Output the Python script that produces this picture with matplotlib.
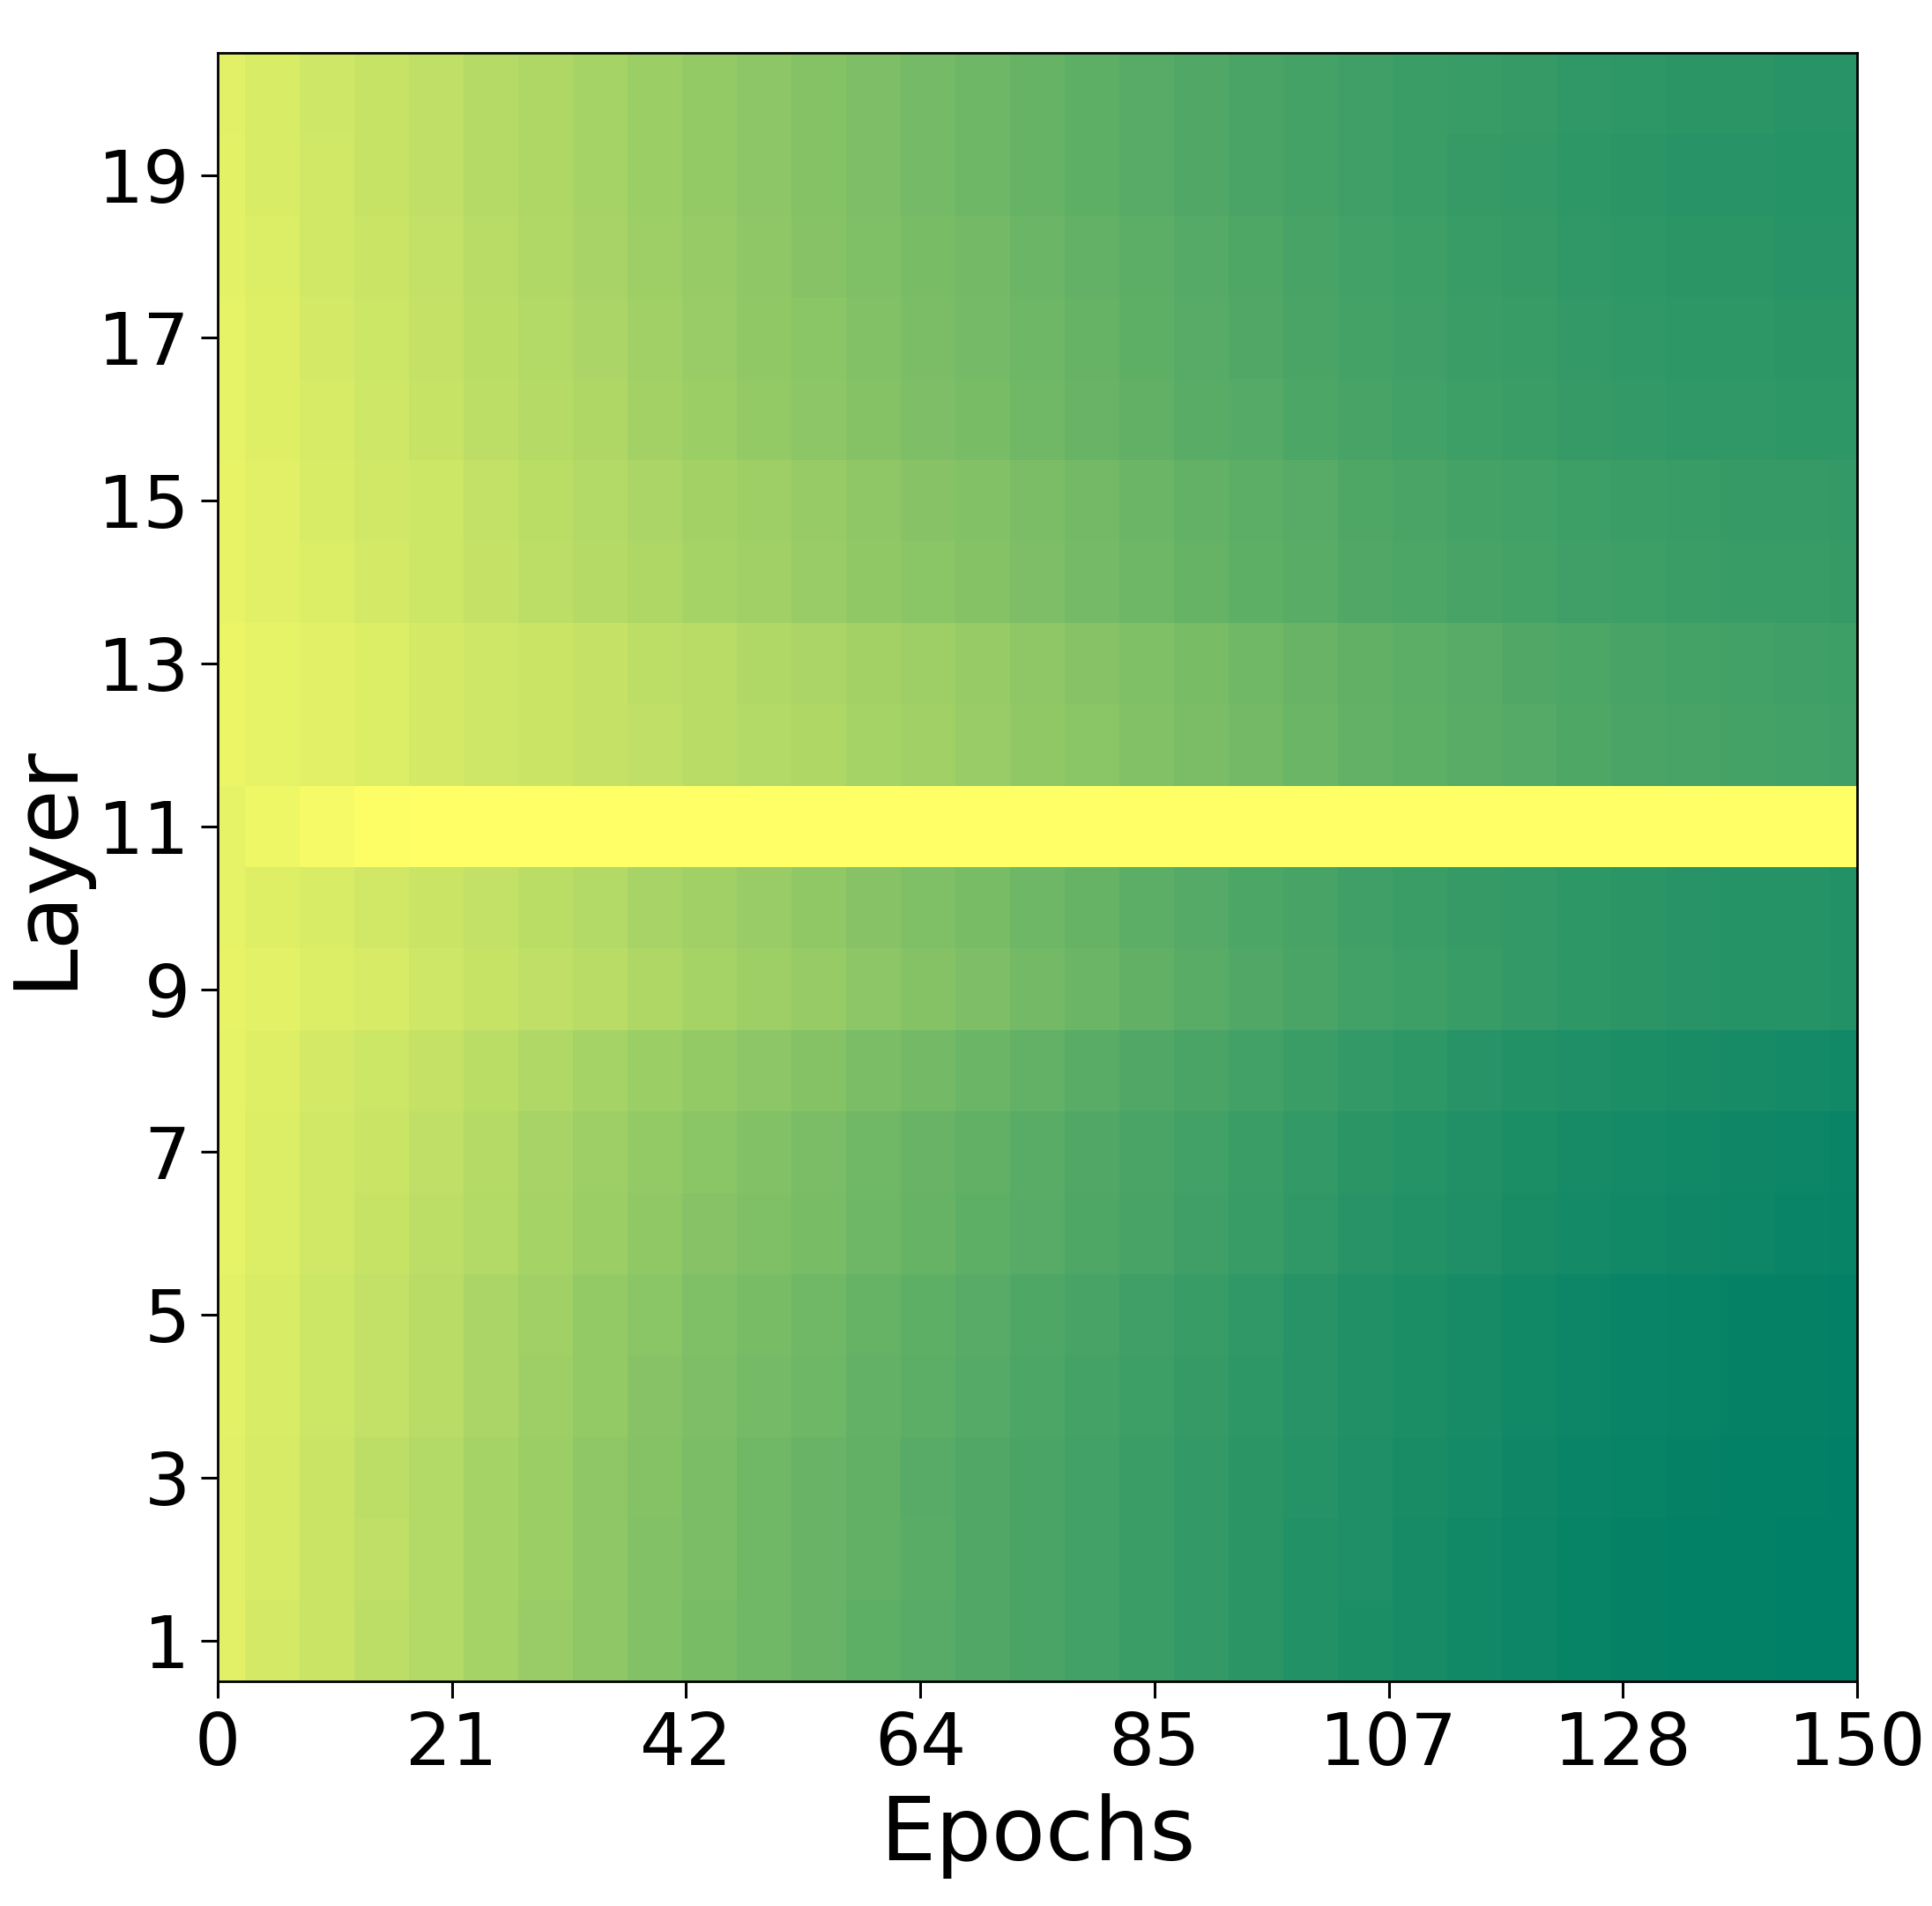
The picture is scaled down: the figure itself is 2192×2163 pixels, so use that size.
import numpy as np
import matplotlib
matplotlib.use("Agg")
import matplotlib.pyplot as plt

# Epoch sample points (columns) and layers (rows)
epochs = np.arange(0, 151, 5)
layers = np.arange(1, 21)

L1 = [.12,.17,.21,.26,.30,.35,.40,.44,.49,.53,.56,.59,.63,.66,.68,.71,.74,.77,.80,.83,.86,.89,.91,.93,.95,.97,.98,.99,.99,1.0,1.0]
L2 = [.12,.16,.21,.25,.30,.35,.39,.44,.49,.52,.56,.59,.62,.65,.68,.71,.74,.77,.80,.83,.86,.88,.91,.93,.95,.97,.98,.99,.99,1.0,1.0]
L3 = [.12,.16,.21,.26,.30,.35,.39,.44,.48,.52,.56,.59,.62,.66,.68,.71,.74,.77,.80,.83,.85,.88,.90,.92,.94,.96,.97,.98,.99,.99,1.0]
L4 = [.11,.15,.20,.24,.28,.33,.38,.42,.47,.51,.54,.57,.61,.64,.67,.70,.73,.76,.79,.82,.84,.87,.89,.91,.93,.95,.96,.97,.98,.98,.99]
L5 = [.11,.15,.20,.24,.28,.33,.37,.42,.46,.50,.53,.56,.60,.63,.66,.69,.72,.75,.78,.81,.84,.87,.89,.91,.93,.95,.96,.97,.98,.98,.99]
L6 = [.10,.14,.18,.22,.26,.30,.35,.39,.43,.47,.50,.53,.57,.60,.63,.66,.69,.72,.75,.78,.81,.84,.86,.88,.90,.92,.93,.94,.95,.96,.97]
L7 = [.10,.14,.18,.21,.25,.29,.34,.38,.42,.46,.49,.52,.56,.59,.62,.65,.68,.71,.74,.77,.80,.83,.85,.87,.89,.91,.92,.93,.94,.95,.96]
L8 = [.10,.13,.17,.20,.23,.27,.31,.35,.39,.42,.45,.48,.52,.55,.58,.61,.65,.68,.71,.74,.77,.80,.82,.84,.86,.88,.89,.90,.91,.92,.93]
L9 = [.09,.11,.14,.16,.19,.22,.25,.28,.32,.35,.38,.41,.45,.48,.51,.55,.58,.62,.65,.68,.71,.74,.76,.78,.80,.82,.83,.84,.85,.85,.86]
L10 = [.10,.13,.15,.18,.21,.24,.27,.30,.34,.37,.40,.43,.47,.50,.53,.57,.60,.64,.67,.70,.72,.75,.77,.79,.80,.82,.83,.84,.85,.85,.86]
L11 = [.10,.07,.04,.01] + [0.0] * 27
L12 = [.08,.10,.12,.14,.17,.19,.21,.23,.25,.28,.30,.32,.35,.37,.40,.43,.46,.49,.52,.55,.58,.61,.63,.65,.67,.69,.71,.72,.73,.74,.75]
L13 = [.08,.10,.12,.14,.17,.19,.21,.23,.26,.28,.31,.33,.36,.38,.41,.44,.47,.50,.53,.56,.59,.62,.64,.66,.68,.70,.72,.73,.74,.75,.76]
L14 = [.09,.12,.14,.17,.20,.23,.26,.29,.32,.35,.37,.40,.43,.46,.48,.51,.54,.57,.60,.63,.65,.68,.70,.72,.73,.75,.76,.77,.78,.78,.79]
L15 = [.09,.12,.15,.18,.20,.24,.27,.30,.33,.36,.38,.41,.44,.47,.49,.52,.55,.58,.61,.64,.66,.69,.71,.73,.74,.76,.77,.78,.79,.79,.80]
L16 = [.10,.13,.16,.19,.22,.26,.29,.32,.36,.39,.42,.45,.48,.51,.53,.56,.59,.62,.65,.67,.70,.72,.74,.76,.77,.79,.80,.81,.81,.82,.82]
L17 = [.10,.13,.17,.20,.23,.27,.30,.33,.37,.40,.43,.46,.49,.52,.54,.57,.60,.63,.66,.68,.71,.73,.75,.77,.78,.80,.81,.82,.82,.83,.83]
L18 = [.11,.14,.18,.21,.24,.28,.31,.34,.38,.41,.44,.47,.50,.53,.55,.58,.61,.64,.67,.69,.72,.74,.76,.78,.79,.81,.82,.83,.83,.84,.84]
L19 = [.11,.15,.18,.22,.25,.29,.32,.35,.39,.42,.45,.48,.51,.54,.57,.60,.63,.66,.68,.71,.73,.75,.77,.79,.80,.82,.83,.84,.84,.85,.85]
L20 = [.12,.15,.19,.22,.25,.29,.32,.35,.39,.42,.45,.48,.51,.54,.57,.60,.63,.66,.68,.71,.73,.75,.77,.78,.79,.81,.82,.83,.83,.84,.84]

rows = [L1, L2, L3, L4, L5, L6, L7, L8, L9, L10,
        L11, L12, L13, L14, L15, L16, L17, L18, L19, L20]
values = np.array(rows, dtype=float)

xtick_pos = np.linspace(0, 150, 8)
xtick_labels = [str(int(v)) for v in xtick_pos]
ytick_vals = np.arange(1, 21, 2)

# cell edges derived from sample epochs / layers
x_edges = np.concatenate(([epochs[0]], (epochs[:-1] + epochs[1:]) / 2, [epochs[-1]]))
y_edges = np.concatenate((layers - 0.5, [layers[-1] + 0.5]))

fig = plt.figure(figsize=(10.96, 10.815), dpi=200)
ax = fig.add_axes([0.1127, 0.1179, 0.8485, 0.8544])
ax.pcolormesh(x_edges, y_edges, values, cmap="summer_r", vmin=0, vmax=1,
              shading="flat", edgecolors="none", antialiased=False)
ax.set_xlim(0, 150)
ax.set_ylim(0.5, 20.5)
ax.set_xticks(xtick_pos)
ax.set_xticklabels(xtick_labels)
ax.set_yticks(ytick_vals)
ax.set_yticklabels([str(v) for v in ytick_vals])
ax.tick_params(axis="both", labelsize=29.5, length=6.8, width=1.1)
ax.tick_params(axis="x", pad=5)
ax.tick_params(axis="y", pad=4.5)
for sp in ax.spines.values():
    sp.set_linewidth(1.0)
ax.set_xlabel("Epochs", fontsize=36, labelpad=5.5)
ax.set_ylabel("Layer", fontsize=36, labelpad=4)

fig.savefig("out.png", dpi=200)
